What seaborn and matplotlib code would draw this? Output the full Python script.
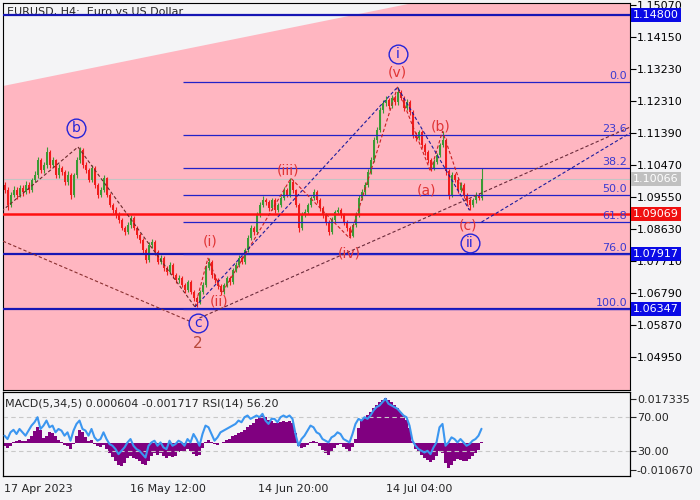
import numpy as np
import pandas as pd
import seaborn as sns
import matplotlib
matplotlib.use('Agg')
import matplotlib.pyplot as plt
from matplotlib.transforms import ScaledTranslation

# ---- EURUSD H4 bars (one bar here ~ 3 chart bars) ----
first_open = 1.0990
closes = [1.0976, 1.0933, 1.0962, 1.0976, 1.0962, 1.0982, 1.0970, 1.0990, 1.0976, 1.1005,
          1.1019, 1.1062, 1.1034, 1.1048, 1.1085, 1.1048, 1.1062, 1.1019, 1.1039, 1.1028,
          1.0999, 1.1019, 1.0962, 1.1019, 1.1062, 1.1091, 1.1048, 1.1034, 1.1005, 1.1039,
          1.0990, 1.0962, 1.0976, 1.1010, 1.0962, 1.0933, 1.0918, 1.0904, 1.0890, 1.0867,
          1.0855, 1.0875, 1.0895, 1.0867, 1.0846, 1.0832, 1.0803, 1.0775, 1.0818, 1.0826,
          1.0798, 1.0769, 1.0780, 1.0752, 1.0740, 1.0760, 1.0731, 1.0717, 1.0723, 1.0703,
          1.0688, 1.0711, 1.0683, 1.0665, 1.0654, 1.0683, 1.0703, 1.0752, 1.0769, 1.0731,
          1.0717, 1.0700, 1.0683, 1.0703, 1.0723, 1.0711, 1.0746, 1.0760, 1.0780, 1.0769,
          1.0803, 1.0838, 1.0867, 1.0855, 1.0904, 1.0933, 1.0947, 1.0941, 1.0924, 1.0947,
          1.0918, 1.0933, 1.0953, 1.0976, 1.0962, 1.0999, 1.0976, 1.0933, 1.0867, 1.0904,
          1.0913, 1.0933, 1.0953, 1.0970, 1.0947, 1.0924, 1.0904, 1.0884, 1.0855, 1.0890,
          1.0913, 1.0918, 1.0904, 1.0884, 1.0867, 1.0844, 1.0875, 1.0904, 1.0953, 1.0970,
          1.0990, 1.1028, 1.1062, 1.1120, 1.1149, 1.1206, 1.1226, 1.1235, 1.1218, 1.1241,
          1.1229, 1.1258, 1.1241, 1.1212, 1.1229, 1.1200, 1.1134, 1.1126, 1.1143, 1.1105,
          1.1085, 1.1062, 1.1039, 1.1056, 1.1077, 1.1105, 1.1120, 1.1030, 1.0962, 1.1019,
          1.1005, 1.0976, 1.0990, 1.0962, 1.0947, 1.0933, 1.0947, 1.0962, 1.0953, 1.10066]
highs = [1.1000, 1.0984, 1.0970, 1.0988, 1.0984, 1.0992, 1.0990, 1.1002, 1.0998, 1.1012,
         1.1030, 1.1070, 1.1068, 1.1058, 1.1100, 1.1090, 1.1072, 1.1066, 1.1050, 1.1046,
         1.1034, 1.1030, 1.1024, 1.1026, 1.1070, 1.1100, 1.1096, 1.1058, 1.1040, 1.1048,
         1.1044, 1.0996, 1.0986, 1.1018, 1.1014, 1.0968, 1.0940, 1.0926, 1.0912, 1.0896,
         1.0874, 1.0884, 1.0904, 1.0900, 1.0872, 1.0852, 1.0838, 1.0808, 1.0826, 1.0836,
         1.0832, 1.0804, 1.0790, 1.0786, 1.0758, 1.0768, 1.0766, 1.0738, 1.0732, 1.0728,
         1.0710, 1.0718, 1.0716, 1.0690, 1.0672, 1.0690, 1.0712, 1.0760, 1.0780, 1.0774,
         1.0736, 1.0722, 1.0706, 1.0710, 1.0730, 1.0728, 1.0752, 1.0768, 1.0788, 1.0786,
         1.0810, 1.0846, 1.0876, 1.0872, 1.0912, 1.0942, 1.0958, 1.0954, 1.0946, 1.0954,
         1.0952, 1.0940, 1.0960, 1.0984, 1.0982, 1.1010, 1.1004, 1.0980, 1.0938, 1.0912,
         1.0922, 1.0940, 1.0960, 1.0980, 1.0976, 1.0952, 1.0930, 1.0910, 1.0890, 1.0898,
         1.0920, 1.0926, 1.0924, 1.0910, 1.0890, 1.0872, 1.0882, 1.0912, 1.0962, 1.0978,
         1.0998, 1.1036, 1.1070, 1.1128, 1.1158, 1.1214, 1.1236, 1.1246, 1.1242, 1.1250,
         1.1248, 1.1272, 1.1264, 1.1246, 1.1238, 1.1234, 1.1206, 1.1142, 1.1150, 1.1148,
         1.1112, 1.1090, 1.1068, 1.1064, 1.1084, 1.1112, 1.1145, 1.1126, 1.1036, 1.1028,
         1.1026, 1.1010, 1.0998, 1.0996, 1.0968, 1.0952, 1.0954, 1.0970, 1.0968, 1.1040]
lows = [1.0968, 1.0918, 1.0926, 1.0955, 1.0950, 1.0955, 1.0960, 1.0964, 1.0968, 1.0970,
        1.0998, 1.1012, 1.1025, 1.1026, 1.1040, 1.1040, 1.1042, 1.1010, 1.1012, 1.1020,
        1.0990, 1.0992, 1.0950, 1.0955, 1.1012, 1.1055, 1.1040, 1.1026, 1.0998, 1.1000,
        1.0982, 1.0954, 1.0956, 1.0970, 1.0955, 1.0926, 1.0910, 1.0896, 1.0880, 1.0860,
        1.0846, 1.0850, 1.0868, 1.0860, 1.0838, 1.0824, 1.0796, 1.0766, 1.0770, 1.0810,
        1.0790, 1.0762, 1.0762, 1.0744, 1.0732, 1.0734, 1.0724, 1.0708, 1.0710, 1.0696,
        1.0680, 1.0684, 1.0676, 1.0656, 1.0640, 1.0648, 1.0678, 1.0698, 1.0746, 1.0724,
        1.0710, 1.0692, 1.0675, 1.0678, 1.0698, 1.0704, 1.0706, 1.0740, 1.0754, 1.0762,
        1.0764, 1.0798, 1.0832, 1.0848, 1.0850, 1.0898, 1.0926, 1.0934, 1.0916, 1.0918,
        1.0910, 1.0912, 1.0928, 1.0948, 1.0955, 1.0956, 1.0968, 1.0926, 1.0855, 1.0860,
        1.0898, 1.0906, 1.0926, 1.0946, 1.0940, 1.0916, 1.0896, 1.0876, 1.0846, 1.0850,
        1.0884, 1.0906, 1.0896, 1.0876, 1.0858, 1.0838, 1.0840, 1.0870, 1.0898, 1.0946,
        1.0962, 1.0984, 1.1022, 1.1056, 1.1112, 1.1142, 1.1198, 1.1218, 1.1210, 1.1212,
        1.1220, 1.1222, 1.1234, 1.1204, 1.1206, 1.1192, 1.1126, 1.1118, 1.1120, 1.1098,
        1.1078, 1.1054, 1.1030, 1.1034, 1.1050, 1.1072, 1.1100, 1.1020, 1.0950, 1.0956,
        1.0998, 1.0968, 1.0970, 1.0954, 1.0938, 1.0918, 1.0926, 1.0940, 1.0946, 1.0948]

# ---- indicator window ----
macd_hist = [-0.0012, -0.0020, -0.0010, 0.0004, 0.0008, 0.0012, 0.0010, 0.0008, 0.0016, 0.0030,
             0.0048, 0.0062, 0.0050, 0.0020, 0.0030, 0.0044, 0.0040, 0.0030, 0.0012, 0.0004,
             -0.0006, -0.0010, -0.0022, -0.0004, 0.0028, 0.0050, 0.0042, 0.0026, 0.0008, 0.0012,
             -0.0004, -0.0012, -0.0016, -0.0008, -0.0024, -0.0040, -0.0056, -0.0070, -0.0086, -0.0090,
             -0.0080, -0.0058, -0.0050, -0.0060, -0.0064, -0.0070, -0.0082, -0.0088, -0.0070, -0.0052,
             -0.0040, -0.0046, -0.0040, -0.0050, -0.0058, -0.0052, -0.0056, -0.0050, -0.0036, -0.0030,
             -0.0034, -0.0024, -0.0030, -0.0042, -0.0052, -0.0046, -0.0020, 0.0006, 0.0014, 0.0006,
             -0.0004, -0.0006, 0.0002, 0.0006, 0.0012, 0.0016, 0.0028, 0.0034, 0.0040, 0.0044,
             0.0050, 0.0062, 0.0070, 0.0080, 0.0096, 0.0106, 0.0112, 0.0104, 0.0092, 0.0086,
             0.0080, 0.0078, 0.0082, 0.0086, 0.0084, 0.0088, 0.0080, 0.0040, -0.0012, -0.0020,
             -0.0016, -0.0008, 0.0004, 0.0010, 0.0004, -0.0010, -0.0026, -0.0040, -0.0046, -0.0036,
             -0.0018, -0.0006, -0.0002, -0.0014, -0.0024, -0.0030, -0.0016, 0.0018, 0.0060, 0.0090,
             0.0100, 0.0112, 0.0124, 0.0138, 0.0150, 0.0162, 0.0170, 0.0180, 0.0172, 0.0164,
             0.0150, 0.0138, 0.0124, 0.0110, 0.0092, 0.0060, 0.0010, -0.0024, -0.0036, -0.0048,
             -0.0060, -0.0068, -0.0074, -0.0066, -0.0050, -0.0030, -0.0040, -0.0080, -0.0098, -0.0086,
             -0.0070, -0.0064, -0.0066, -0.0070, -0.0072, -0.0064, -0.0052, -0.0040, -0.0026, 0.0006]
rsi_values = [48, 44, 52, 55, 50, 56, 52, 48, 54, 60,
              64, 70, 56, 60, 66, 58, 60, 52, 56, 54,
              48, 52, 42, 54, 62, 66, 56, 54, 48, 56,
              46, 42, 44, 52, 44, 38, 36, 32, 26, 30,
              34, 40, 44, 36, 32, 30, 26, 22, 36, 40,
              42, 36, 40, 34, 32, 42, 36, 38, 42, 40,
              36, 44, 40, 50, 44, 36, 50, 60, 58, 50,
              42, 46, 52, 54, 56, 58, 60, 62, 66, 64,
              70, 72, 68, 70, 72, 70, 74, 66, 62, 68,
              68, 64, 70, 72, 70, 72, 68, 50, 36, 44,
              48, 54, 60, 58, 52, 50, 44, 42, 40, 46,
              48, 52, 50, 44, 42, 40, 50, 62, 68, 66,
              70, 68, 72, 78, 82, 84, 88, 92, 86, 84,
              82, 80, 76, 72, 70, 60, 42, 36, 32, 30,
              28, 30, 26, 34, 40, 58, 62, 36, 40, 46,
              44, 40, 44, 40, 36, 38, 42, 44, 48, 56.2]

price_ticks = [1.04950, 1.05870, 1.06790, 1.07710, 1.08630, 1.09550,
               1.10470, 1.11390, 1.12310, 1.13230, 1.14150, 1.15070]
date_ticks = [0, 42, 84.5, 127]
date_labels = ['17 Apr 2023', '16 May 12:00', '14 Jun 20:00', '14 Jul 04:00']
macd_ticks = [0.017335, -0.010670]
rsi_ticks = [70, 30]

level_prices = [1.14800, 1.10066, 1.09069, 1.07917, 1.06347]
level_kinds = ['blue', 'bid', 'red', 'blue', 'blue']

fib_high = 1.1288
fib_low = 1.06347
fib_pcts = [0.0, 23.6, 38.2, 50.0, 61.8, 76.0, 100.0]
fib_start = 59.5

# Elliott wave pivots (bar, price)
pivot_names = ['a', 'b', 'c', '(i)', '(ii)', '(iii)', '(iv)', '(v)', '(a)', '(b)', '(c)']
pivot_bars = [-1.0, 24.5, 63.5, 67.8, 72.5, 95.5, 115.0, 131.0, 142.0, 146.0, 155.0]
pivot_prices = [1.0915, 1.1100, 1.0640, 1.0780, 1.0680, 1.1010, 1.0838, 1.1272, 1.1030, 1.1145, 1.0918]

# trend lines (two anchor points each)
old_trend_bars, old_trend_prices = [-0.5, 62.5], [1.0829, 1.0596]
up_trend_bars, up_trend_prices = [65.0, 208.5], [1.0608, 1.1157]
new_trend_bars, new_trend_prices = [159.0, 208.5], [1.0884, 1.1140]

macd_text = 'MACD(5,34,5) 0.000604 -0.001717 RSI(14) 56.20'
title_text = 'EURUSD, H4:  Euro vs US Dollar'

# ---------------------------------------------------------------
sns.set_style('white')
plt.rcParams['font.family'] = ['DejaVu Sans']

bg = '#f4f4f6'
pink = '#ffb6c1'
navy = '#1616b4'
wave_red = '#e03434'
wave_blue = '#2424d8'

bars = pd.DataFrame({'bar': np.arange(len(closes)), 'close': closes,
                     'high': highs, 'low': lows, 'macd': macd_hist, 'rsi': rsi_values})
bars['open'] = [first_open] + closes[:-1]
bars['up'] = bars['close'] >= bars['open']

fig = plt.figure(figsize=(7, 5), dpi=100, facecolor=bg)
ax = fig.add_axes([3 / 700, 110 / 500, 627 / 700, 387 / 500])
axm = fig.add_axes([3 / 700, 24 / 500, 627 / 700, 84 / 500], sharex=ax)

xmin, xmax = -0.5, 208.5
ax.set_xlim(xmin, xmax)
ax.set_ylim(1.0401, 1.1514)
ax.set_facecolor(pink)
ax.fill([0, 0, 0.654], [1, 0.7855, 1], transform=ax.transAxes, color=bg, zorder=0.5, lw=0)

# candles
cols = np.where(bars['up'], '#3a9a34', '#f01c1c')
ax.vlines(bars['bar'], bars['low'], bars['high'], colors=cols, lw=0.8, zorder=2)
body = (bars['close'] - bars['open']).abs().clip(lower=0.00025)
ax.bar(bars['bar'], body, bottom=bars[['open', 'close']].min(axis=1), width=0.6,
       color=cols, lw=0, zorder=2.5)

# horizontal levels
for p, kind in zip(level_prices, level_kinds):
    if kind == 'bid':
        ax.axhline(p, color='#c4c4c4', lw=0.8, zorder=1.5)
    elif kind == 'red':
        ax.axhline(p, color='#ff1010', lw=1.8, zorder=4)
    else:
        ax.axhline(p, color=navy, lw=1.6, zorder=4)

fib_levels = [fib_high - pct / 100 * (fib_high - fib_low) for pct in fib_pcts]
ax.hlines(fib_levels, fib_start, xmax, color='#2222c8', lw=0.9, zorder=4)
for pct, lv in zip(fib_pcts, fib_levels):
    ax.annotate(f'{pct:.1f}', xy=(1, lv), xycoords=ax.get_yaxis_transform(),
                xytext=(-3, 1), textcoords='offset pixels', ha='right', va='bottom',
                color='#3a3ad0', fontsize=8, zorder=6)

# wave lines
dash = (0, (3, 2))
pb = dict(zip(pivot_names, pivot_bars))
pp = dict(zip(pivot_names, pivot_prices))
def seg(names, color):
    ax.plot([pb[n] for n in names], [pp[n] for n in names], color=color, lw=0.8,
            ls=dash, zorder=5)
seg(['a', 'b', 'c'], '#6a2a2a')
seg(['c', '(i)', '(ii)', '(iii)', '(iv)', '(v)', '(a)', '(b)', '(c)'], '#c82020')
seg(['c', '(v)', '(c)'], '#1c1c9c')
ax.plot(old_trend_bars, old_trend_prices, color='#8a3030', lw=0.8, ls=dash, zorder=5)
ax.plot(up_trend_bars, up_trend_prices, color='#6a2a3a', lw=0.8, ls=dash, zorder=5)
ax.plot(new_trend_bars, new_trend_prices, color='#1c1c9c', lw=0.8, ls=dash, zorder=5)

def label(name, text, dx, dy, color, size=10, circled=False):
    tr = ax.transData + ScaledTranslation(dx / 100, dy / 100, fig.dpi_scale_trans)
    if circled:
        ax.plot([pb[name]], [pp[name]], marker='o', ms=13.5, mfc='none', mec=color,
                mew=1.0, transform=tr, zorder=8)
    ax.text(pb[name], pp[name], text, transform=tr, ha='center', va='center',
            color=color, fontsize=size, zorder=9)

label('b', 'b', -2, 19, wave_blue, circled=True)
label('c', 'c', 3, -16, wave_blue, circled=True)
label('c', '2', 3, -37, '#b84a3c', size=11)
label('(i)', '(i)', 2, 17, wave_red)
label('(ii)', '(ii)', -3, -9, wave_red)
label('(iii)', '(iii)', -3, 8, wave_red)
label('(iv)', '(iv)', 0, -15, wave_red)
label('(v)', '(v)', 0, 15, wave_red)
label('(v)', 'i', 0, 33, wave_blue, circled=True)
label('(a)', '(a)', -4, -19, wave_red)
label('(b)', '(b)', -2, 5, wave_red)
label('(c)', '(c)', -1, -15, wave_red)
label('(c)', 'ii', 0, -33, wave_blue, circled=True)

ax.annotate(title_text, xy=(0, 1), xycoords='axes fraction', xytext=(4, -9),
            textcoords='offset pixels', ha='left', va='center', fontsize=8, zorder=3)

# price axis
ax.yaxis.tick_right()
ax.set_yticks(price_ticks)
ax.set_yticklabels([f'{p:.5f}' for p in price_ticks])
ax.tick_params(axis='y', direction='out', length=4, width=0.8, pad=1, labelsize=8, colors='black')
ax.tick_params(axis='x', bottom=False, labelbottom=False)
box_colors = {'blue': '#0a0ae6', 'bid': '#c0c0c0', 'red': '#f01010'}
for p, kind in zip(level_prices, level_kinds):
    ax.text(1.005, p, f'{p:.5f}', transform=ax.get_yaxis_transform(), ha='left',
            va='center', color='white', fontsize=8, clip_on=False, zorder=10,
            bbox=dict(boxstyle='square,pad=0.18', fc=box_colors[kind], ec='none'))
for s in ax.spines.values():
    s.set_color('black')
    s.set_linewidth(0.8)

# indicator window: MACD histogram + RSI line share the panel
axm.set_facecolor(bg)
axm.bar(bars['bar'], bars['macd'], width=1.0, color='#800080', lw=0, zorder=2)
axm.set_ylim(-0.0130, 0.0202)
axr = axm.twinx()
axr.set_ylim(0, 100)
for lv in rsi_ticks:
    axr.axhline(lv, color='#c8c8c8', lw=0.8, ls=(0, (4, 3)), zorder=1)
sns.lineplot(data=bars, x='bar', y='rsi', ax=axr, color='#3b96f0', lw=1.5, zorder=3)
axr.set_ylabel('')
axr.set_xlabel('')
axr.set_yticks(rsi_ticks)
axr.set_yticklabels([f'{v:.2f}' for v in rsi_ticks])
axm.yaxis.tick_right()
axm.set_yticks(macd_ticks)
axm.set_yticklabels([f'{v:.6f}' for v in macd_ticks])
for a in (axm, axr):
    a.tick_params(axis='y', direction='out', length=4, width=0.8, pad=1, labelsize=8)
    for s in a.spines.values():
        s.set_color('black')
        s.set_linewidth(0.8)
axm.set_xlim(xmin, xmax)
axm.set_xticks(date_ticks)
axm.set_xticklabels(date_labels, ha='left')
axm.tick_params(axis='x', direction='out', length=4, width=0.8, pad=2, labelsize=8)
axm.set_xlabel('')
axm.annotate(macd_text, xy=(0, 1), xycoords='axes fraction', xytext=(2, -11),
             textcoords='offset pixels', ha='left', va='center', fontsize=8, zorder=5)

fig.savefig('out.png', dpi=100, facecolor=bg)
